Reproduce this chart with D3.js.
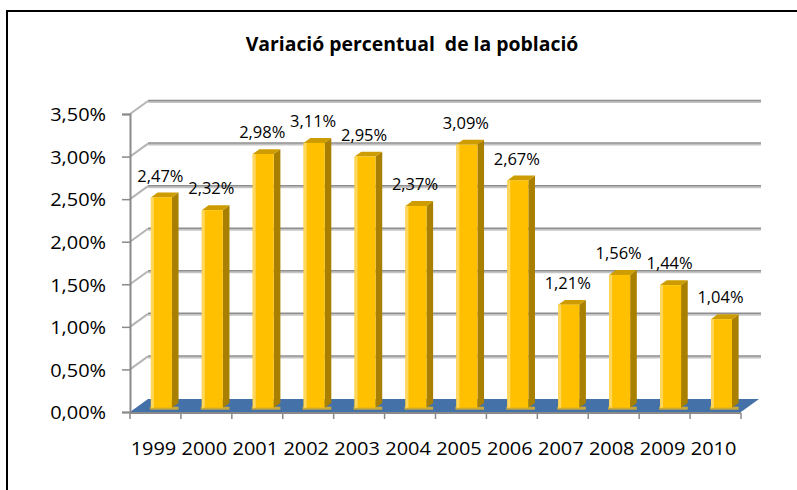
<html>
<head>
<script src="https://d3js.org/d3.v7.min.js"></script>
<style>
  body { margin: 0; background: #fff; }
  text { font-family: "Open Sans", Lato, sans-serif; fill: #000; }
</style>
</head>
<body>
<svg width="797" height="490"></svg>
<script>
// data
const years = ['1999','2000','2001','2002','2003','2004','2005','2006','2007','2008','2009','2010'];
const values = [0.0247, 0.0232, 0.0298, 0.0311, 0.0295, 0.0237, 0.0309, 0.0267, 0.0121, 0.0156, 0.0144, 0.0104];
const yTicks = [0, 0.005, 0.01, 0.015, 0.02, 0.025, 0.03, 0.035];

const svg = d3.select('svg');
const cat = d3.formatLocale({decimal: ',', thousands: '.', grouping: [3], currency: ['', '€']});
const pct = cat.format('.2%');

// 3d depth offsets
const DX = 18, DY = -13;
const f0 = 0.33, f1 = 0.70;
const barW = 21;
const sx = 1.05; // horizontal stretch of the text

const x = d3.scaleBand().domain(years).range([130, 741]);
const y = d3.scaleLinear().domain([0, 0.035]).range([412, 114]);

// outer frame
svg.append('rect').attr('x', 7).attr('y', 11).attr('width', 820).attr('height', 520)
  .attr('fill', 'none').attr('stroke', '#000').attr('stroke-width', 2);

// title
svg.append('text').attr('transform', 'translate(412,51) scale(0.97,1)').attr('text-anchor', 'middle')
  .attr('font-size', 20).attr('font-weight', 'bold').style('white-space', 'pre')
  .text('Variació percentual  de la població');

const x0 = x.range()[0], x1 = x.range()[1];

// gridlines: side wall diagonals + back wall
const grid = svg.append('g');
yTicks.filter(t => t > 0).forEach(t => {
  grid.append('line').attr('x1', x0).attr('y1', y(t)).attr('x2', x0 + DX).attr('y2', y(t) + DY)
    .attr('stroke', '#b4b4b4').attr('stroke-width', 2);
  grid.append('line').attr('x1', x0 + DX).attr('y1', y(t) + DY + 1).attr('x2', x1 + DX + 2).attr('y2', y(t) + DY + 1)
    .attr('stroke', '#c4c4c4').attr('stroke-width', 2);
  grid.append('line').attr('x1', x0 + DX).attr('y1', y(t) + DY - 0.5).attr('x2', x1 + DX + 2).attr('y2', y(t) + DY - 0.5)
    .attr('stroke', '#8e8e8e').attr('stroke-width', 1.5);
});

// floor
const fy = y(0);
svg.append('polygon')
  .attr('points', [[x0, fy], [x1, fy], [x1 + DX, fy + DY], [x0 + DX, fy + DY]].map(p => p.join(',')).join(' '))
  .attr('fill', '#4571a9');

// bars
const bars = svg.append('g').selectAll('g').data(years).join('g');
const ddx = (f1 - f0) * DX, ddy = (f1 - f0) * DY;
function geo(d, i) {
  const bx = x(d) + x.bandwidth() / 2 + f0 * DX - barW / 2;
  const yt = y(values[i]) + f0 * DY;
  const yb = y(0) + f0 * DY;
  return {bx, yt, yb};
}
// shadow on floor
bars.append('rect')
  .attr('x', (d, i) => geo(d, i).bx - 1).attr('y', (d, i) => geo(d, i).yb - 1)
  .attr('width', barW + ddx + 1).attr('height', 3).attr('fill', '#c9a83a');
bars.append('polygon')
  .attr('points', (d, i) => {
    const g = geo(d, i), r = g.bx + barW;
    return [[r, g.yt], [r + ddx, g.yt + ddy], [r + ddx, g.yb + ddy], [r, g.yb]].map(p => p.join(',')).join(' ');
  })
  .attr('fill', '#a97f00');
bars.append('polygon')
  .attr('points', (d, i) => {
    const g = geo(d, i), r = g.bx + barW;
    return [[g.bx, g.yt], [r, g.yt], [r + ddx, g.yt + ddy], [g.bx + ddx, g.yt + ddy]].map(p => p.join(',')).join(' ');
  })
  .attr('fill', '#cc9c00');
bars.append('rect')
  .attr('x', (d, i) => geo(d, i).bx).attr('y', (d, i) => geo(d, i).yt)
  .attr('width', barW).attr('height', (d, i) => geo(d, i).yb - geo(d, i).yt)
  .attr('fill', '#ffc000');
bars.append('rect')
  .attr('x', (d, i) => geo(d, i).bx).attr('y', (d, i) => geo(d, i).yt)
  .attr('width', 3).attr('height', (d, i) => geo(d, i).yb - geo(d, i).yt)
  .attr('fill', '#ffd75e');

// data labels
bars.append('text')
  .attr('transform', (d, i) => {
    const g = geo(d, i);
    return 'translate(' + (g.bx + barW / 2 - 1) + ',' + (g.yt + ddy - 11) + ') scale(1.03,1)';
  })
  .attr('text-anchor', 'middle').attr('font-size', 16)
  .text((d, i) => pct(values[i]));

// y axis
const yAxis = svg.append('g').attr('transform', 'translate(' + x0 + ',0)')
  .call(d3.axisLeft(y).tickValues(yTicks).tickFormat(pct).tickSize(8).tickPadding(15));
yAxis.select('.domain').attr('stroke', '#8a8a8a').attr('stroke-width', 2);
yAxis.selectAll('.tick line').attr('stroke', '#8a8a8a').attr('stroke-width', 1.5);
yAxis.selectAll('.tick text').attr('font-size', 19).attr('font-family', '"Open Sans", sans-serif')
  .attr('fill', '#000').attr('transform', 'scale(' + sx + ',1)').attr('x', -24 / sx).attr('dy', '0.36em');

// x axis line with ticks at the category boundaries
svg.append('line').attr('x1', x0).attr('y1', fy + 1).attr('x2', x1).attr('y2', fy + 1)
  .attr('stroke', '#8a8a8a').attr('stroke-width', 2);
svg.append('g').selectAll('line').data(years.concat(['end'])).join('line')
  .attr('x1', (d, i) => i < years.length ? x(d) : x1).attr('x2', (d, i) => i < years.length ? x(d) : x1)
  .attr('y1', fy + 1).attr('y2', fy + 7).attr('stroke', '#8a8a8a').attr('stroke-width', 1.5);

svg.append('g').selectAll('text').data(years).join('text')
  .attr('transform', d => 'translate(' + (x(d) + x.bandwidth() / 2 - 2) + ',455) scale(' + sx + ',1)')
  .attr('text-anchor', 'middle').attr('font-size', 19)
  .text(d => d);
</script>
</body>
</html>
